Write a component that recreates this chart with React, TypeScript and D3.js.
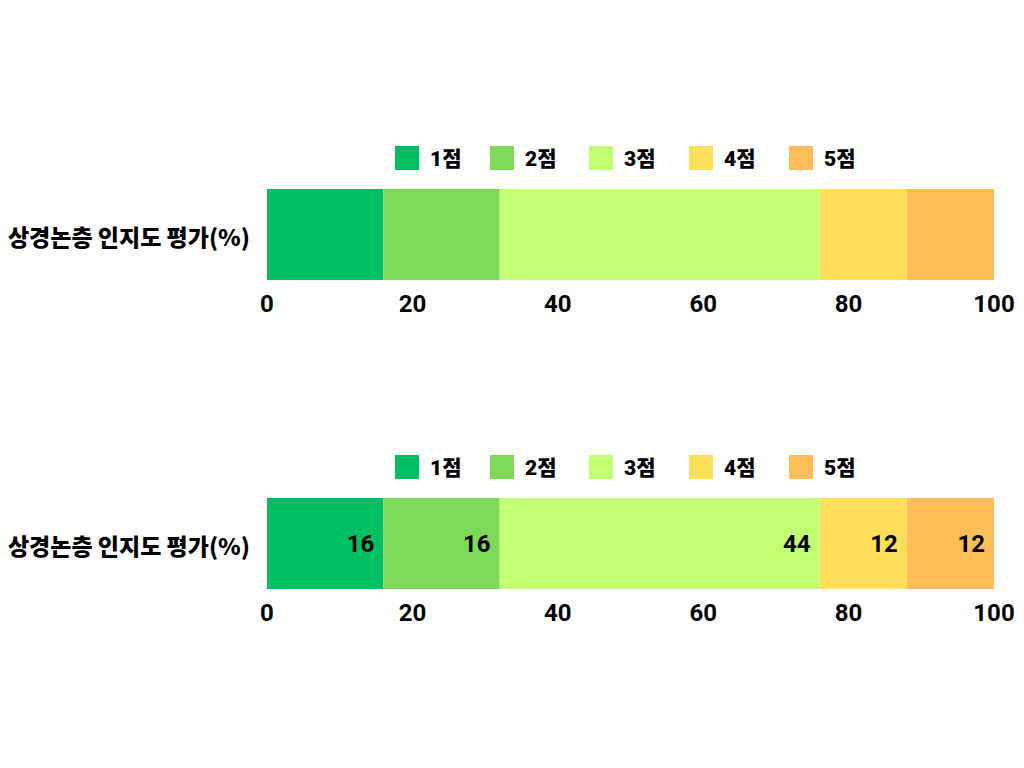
import React from "react";
import * as d3 from "d3";

// Score categories and their colours
const categories: string[] = ["1점", "2점", "3점", "4점", "5점"];
const colors: string[] = ["#00BF63", "#7ED957", "#C1FF72", "#FFDE59", "#FFBD59"];
// Share of respondents per score (%)
const values: number[] = [16, 16, 44, 12, 12];
const rowLabel = "상경논층 인지도 평가(%)";
const ticks: number[] = [0, 20, 40, 60, 80, 100];

const W = 1024;
const H = 768;
const x = d3.scaleLinear().domain([0, 100]).range([267, 994]);

const numFont = "Roboto, 'Noto Sans CJK KR', sans-serif";
const korFont = "'Noto Sans CJK KR', sans-serif";

type PanelProps = { top: number; showValues: boolean };

function Panel({ top, showValues }: PanelProps) {
  const barTop = top;
  const barH = 91;
  const legendY = barTop - 31;
  // stack the segments
  let acc = 0;
  const segs = values.map((v, i) => {
    const s = { x0: acc, x1: acc + v, v, i };
    acc += v;
    return s;
  });
  // legend item positions, spaced by text widths
  const legendXs = [395, 490, 589, 689, 789];
  return (
    <g>
      {categories.map((c, i) => (
        <g key={c} transform={`translate(${legendXs[i]},${legendY})`}>
          <rect x={0} y={-12} width={24} height={24} fill={colors[i]} />
          <text
            x={35}
            y={1}
            dominantBaseline="central"
            fontFamily={numFont}
            fontWeight={900}
            fontSize={21}
            fill="#000"
          >
            {c}
          </text>
        </g>
      ))}
      <text
        x={250}
        y={barTop + barH / 2 + 1}
        textAnchor="end"
        dominantBaseline="central"
        fontFamily={korFont}
        fontWeight={900}
        fontSize={23}
        fill="#000"
      >
        {rowLabel}
      </text>
      {segs.map((s) => (
        <rect
          key={s.i}
          x={x(s.x0)}
          y={barTop}
          width={x(s.x1) - x(s.x0)}
          height={barH}
          fill={colors[s.i]}
        />
      ))}
      {showValues &&
        segs.map((s) => (
          <text
            key={"v" + s.i}
            x={x(s.x1) - 9}
            y={barTop + barH / 2 + 8}
            textAnchor="end"
            fontFamily={numFont}
            fontWeight={700}
            fontSize={24}
            fill="#000"
          >
            {s.v}
          </text>
        ))}
      {ticks.map((t) => (
        <text
          key={"t" + t}
          x={x(t)}
          y={barTop + barH + 32}
          textAnchor="middle"
          fontFamily={numFont}
          fontWeight={700}
          fontSize={24}
          fill="#000"
        >
          {t}
        </text>
      ))}
    </g>
  );
}

export default function App() {
  return (
    <svg
      width={W}
      height={H}
      style={{ position: "absolute", left: 0, top: 0, background: "#fff" }}
    >
      <rect width={W} height={H} fill="#fff" />
      <Panel top={189} showValues={false} />
      <Panel top={498} showValues={true} />
    </svg>
  );
}
